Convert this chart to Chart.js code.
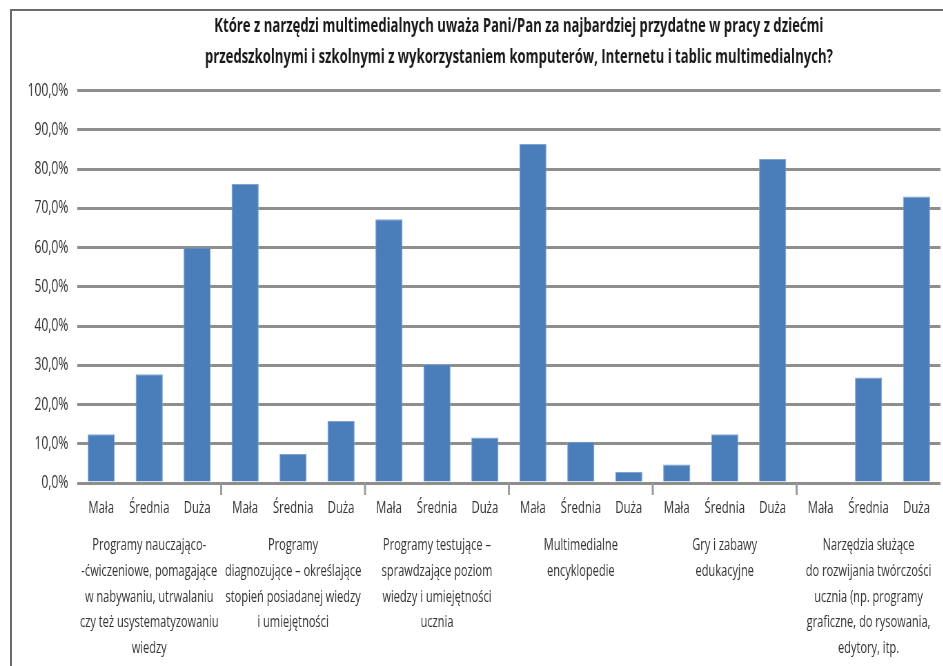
<!DOCTYPE html>
<html>
<head>
<meta charset="utf-8">
<script src="https://cdn.jsdelivr.net/npm/chart.js@4"></script>
<style>
  html, body { margin: 0; padding: 0; background: #fff; }
  #wrap { position: relative; width: 943px; height: 666px; overflow: hidden; }
  #frame { position: absolute; left: 10px; top: 9px; width: 960px; height: 700px;
           border-left: 2px solid #6b6b6b; border-top: 2px solid #6b6b6b; }
  /* brak fontu zwężonego -> zwężamy cały rysunek w poziomie */
  #narrow { position: absolute; left: 0; top: 0; width: 1367px; height: 666px;
            transform: scaleX(0.69); transform-origin: 0 0; }
</style>
</head>
<body>
<div id="wrap">
  <div id="frame"></div>
  <div id="narrow"><canvas id="chart" width="1367" height="666"></canvas></div>
</div>
<script>
// --- DANE ---
const levels = ['Mała', 'Średnia', 'Duża'];
const groups = [
  ['Programy nauczająco-', '-ćwiczeniowe, pomagające', 'w nabywaniu, utrwalaniu', 'czy też usystematyzowaniu', 'wiedzy'],
  ['Programy', 'diagnozujące – określające', 'stopień posiadanej wiedzy', 'i umiejętności'],
  ['Programy testujące –', 'sprawdzające poziom', 'wiedzy i umiejętności', 'ucznia'],
  ['Multimedialne', 'encyklopedie'],
  ['Gry i zabawy', 'edukacyjne'],
  ['Narzędzia służące', 'do rozwijania twórczości', 'ucznia (np. programy', 'graficzne, do rysowania,', 'edytory, itp.']
];
// procenty w kolejności: Mała, Średnia, Duża dla każdej grupy
const values = [
  12.4, 27.7, 60.0,
  76.2, 7.4, 15.8,
  67.2, 30.3, 11.6,
  86.4, 10.5, 2.8,
  4.7, 12.4, 82.6,
  0.0, 26.9, 73.0
];
const yTicks = [0, 10, 20, 30, 40, 50, 60, 70, 80, 90, 100];

const FONT = "'Open Sans', sans-serif";
const labels = groups.flatMap(() => levels);

// kreski oddzielające grupy pod osią X
const groupDividers = {
  id: 'groupDividers',
  afterLayout(chart) {
    // tytuł w oryginale jest lekko przesunięty w prawo
    chart.titleBlock.left += 29;
  },
  afterDraw(chart) {
    const x = chart.scales.x, ctx = chart.ctx;
    const bottom = chart.chartArea.bottom;
    ctx.save();
    ctx.strokeStyle = '#9a9a9a';
    ctx.lineWidth = 2.9;
    for (let g = 1; g < groups.length; g++) {
      const px = (x.getPixelForValue(g * 3 - 1) + x.getPixelForValue(g * 3)) / 2;
      ctx.beginPath();
      ctx.moveTo(px, bottom);
      ctx.lineTo(px, bottom + 12);
      ctx.stroke();
    }
    ctx.restore();
  }
};

new Chart(document.getElementById('chart'), {
  type: 'bar',
  data: {
    labels: labels,
    datasets: [{
      data: values,
      backgroundColor: '#4a7ebb',
      borderColor: '#7ea3d4',
      borderWidth: 1,
      barPercentage: 0.565,
      categoryPercentage: 1,
      xAxisID: 'x'
    }]
  },
  options: {
    responsive: false,
    animation: false,
    devicePixelRatio: 1,
    layout: { padding: { left: 0, right: 4, top: 0, bottom: 5 } },
    plugins: {
      legend: { display: false },
      tooltip: { enabled: false },
      title: {
        display: true,
        fullSize: false,
        text: ['Które z narzędzi multimedialnych uważa Pani/Pan za najbardziej przydatne w pracy z dziećmi',
               'przedszkolnymi i szkolnymi z wykorzystaniem komputerów, Internetu i tablic multimedialnych?'],
        color: '#1a1a1a',
        font: { family: FONT, size: 19, weight: 'bold', lineHeight: 1.65 },
        padding: { top: 11, bottom: 17 }
      }
    },
    scales: {
      x: {
        type: 'category',
        position: 'bottom',
        grid: { display: false, drawTicks: false },
        border: { display: false },
        afterFit: s => { s.paddingLeft = 0; s.paddingRight = 0; s.height = 35; },
        ticks: { color: '#333', font: { family: FONT, size: 16.5 }, padding: 15, maxRotation: 0, autoSkip: false }
      },
      x2: {
        type: 'category',
        position: 'bottom',
        labels: groups,
        grid: { display: false, drawTicks: false },
        border: { display: false },
        afterFit: s => { s.paddingLeft = 0; s.paddingRight = 0; s.height = 143; },
        ticks: { color: '#333', font: { family: FONT, size: 16, lineHeight: 1.6 }, padding: 15, maxRotation: 0, autoSkip: false }
      },
      y: {
        min: 0,
        max: 100,
        afterBuildTicks: s => { s.ticks = yTicks.map(v => ({ value: v })); },
        afterFit: s => { s.width = 112; },
        grid: { color: '#8e8e8e', lineWidth: 3, drawTicks: false },
        border: { display: false },
        ticks: {
          color: '#333',
          padding: 13,
          font: { family: FONT, size: 17.5 },
          callback: v => v.toFixed(1).replace('.', ',') + '%'
        }
      }
    }
  },
  plugins: [groupDividers]
});
</script>
</body>
</html>
